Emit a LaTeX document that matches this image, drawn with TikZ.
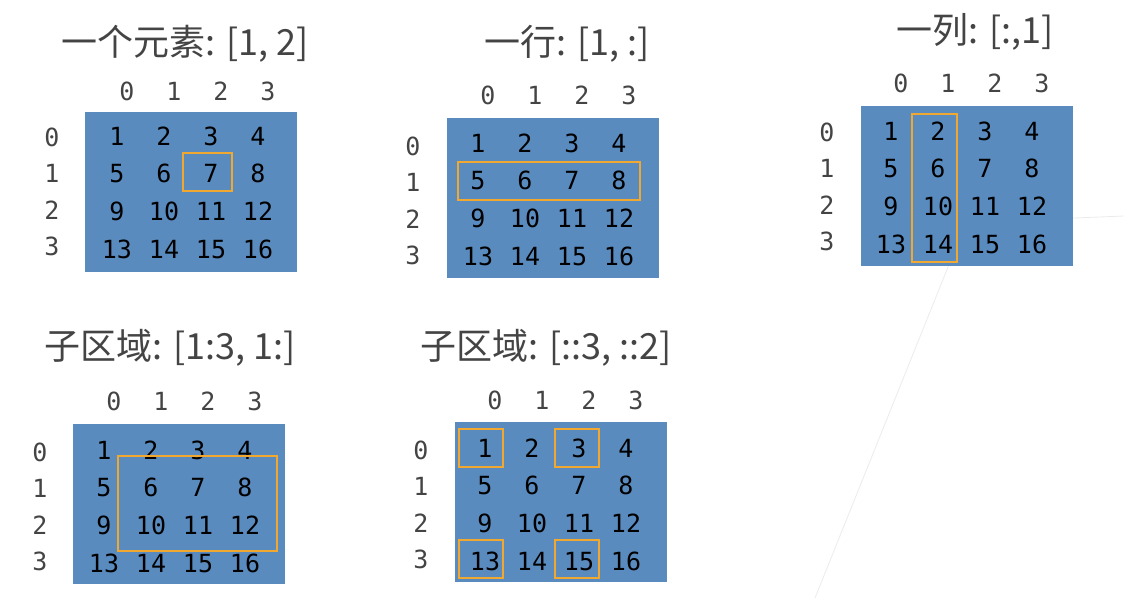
\documentclass[tikz,border=0pt]{standalone}
\usepackage{fontspec}
\newfontfamily\cjk{Noto Sans CJK SC}
\newfontfamily\mono{DejaVu Sans Mono}
\definecolor{cellblue}{HTML}{5A8BBF}
\definecolor{hl}{HTML}{F0A830}
\definecolor{ttl}{HTML}{444444}
\tikzset{
 ttlnode/.style={font=\cjk\fontsize{36}{40}\selectfont,text=ttl,inner sep=0pt},
 num/.style={font=\mono\fontsize{25}{28}\selectfont,inner sep=0pt},
 lab/.style={font=\mono\fontsize{25}{28}\selectfont,text=ttl,inner sep=0pt},
 mat/.style={fill=cellblue},
 hbox/.style={draw=hl,line width=2.5pt}
}
% #1 prefix, #2 rect x0, #3 y0, #4 first col x, #5 first row y, #6 header y, #7 label x, #8 first label y
\newcommand{\mygrid}[8]{%
 \fill[mat] (#2,#3) rectangle ++(212,160);
 \foreach \c in {0,1,2,3}{\node[lab] (#1h\c) at ({#4+10+47*\c},#6) {\c};}
 \foreach \r in {0,1,2,3}{\node[lab] (#1l\r) at (#7,{#8+36.5*\r}) {\r};}
 \foreach \r in {0,1,2,3}{\foreach \c in {0,1,2,3}{%
   \pgfmathtruncatemacro\v{4*\r+\c+1}%
   \node[num] (#1n\r\c) at ({#4+47*\c},{#5+37.8*\r}) {\v};}}
}
\begin{document}
\begin{tikzpicture}[x=1pt,y=-1pt]
\useasboundingbox (0,0) rectangle (1124,598);
\draw[black!8,line width=0.8pt] (815,598) -- (950,262);
\draw[black!8,line width=0.8pt] (1000,221) -- (1124,216);
% panel 1
\node[ttlnode] (t1) at (185,44) {一个元素: [1, 2]};
\mygrid{a}{85}{112}{117}{136}{91}{52}{137}
\draw[hbox] (183,153) rectangle (232,191);
% panel 2
\node[ttlnode] (t2) at (567,44) {一行: [1, :]};
\mygrid{b}{447}{118}{478}{143}{95}{413}{146}
\draw[hbox] (458,162) rectangle (640,200);
% panel 3
\node[ttlnode] (t3) at (975,32) {一列: [:,1]};
\mygrid{c}{861}{106}{891}{131}{83}{827}{132}
\draw[hbox] (912,114) rectangle (957,262);
% panel 4
\node[ttlnode] (t4) at (170,348) {子区域: [1:3, 1:]};
\mygrid{d}{73}{424}{104}{450}{401}{40}{452}
\draw[hbox] (118,456) rectangle (277,551);
% panel 5
\node[ttlnode] (t5) at (546,348) {子区域: [::3, ::2]};
\mygrid{e}{455}{422}{485}{448}{400}{421}{450}
\draw[hbox] (459,429) rectangle (503,467);
\draw[hbox] (555,429) rectangle (599,467);
\draw[hbox] (459,540) rectangle (503,578);
\draw[hbox] (555,540) rectangle (599,578);
\end{tikzpicture}
\end{document}
